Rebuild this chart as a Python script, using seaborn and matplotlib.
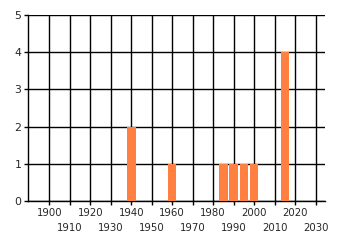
import matplotlib
matplotlib.use("Agg")
import matplotlib.pyplot as plt
import seaborn as sns
import pandas as pd

years = [1940, 1960, 1985, 1990, 1995, 2000, 2015]
counts = [2, 1, 1, 1, 1, 1, 4]
major_ticks = [1900, 1920, 1940, 1960, 1980, 2000, 2020]
minor_ticks = [1910, 1930, 1950, 1970, 1990, 2010, 2030]
y_ticks = [0, 1, 2, 3, 4, 5]

sns.set_style("white")
plt.rcParams['font.family'] = ['DejaVu Sans']

fig = plt.figure(figsize=(3.4, 2.45), dpi=100)
ax = fig.add_axes([0.0833, 0.180, 0.8727, 0.759])

df = pd.DataFrame({"year": years, "count": counts})
sns.barplot(data=df, x="year", y="count", native_scale=True, width=0.83,
            color="#FF8040", saturation=1, errorbar=None, ax=ax, zorder=3,
            linewidth=0, edgecolor="none")

ax.set_xlim(1889.75, 2034.6)
ax.set_ylim(0, 5)
ax.set_xticks(major_ticks)
ax.set_xticks(minor_ticks, minor=True)
ax.set_xticklabels([str(t) for t in major_ticks])
ax.set_xticklabels([str(t) for t in minor_ticks], minor=True)
ax.set_yticks(y_ticks)
ax.set_yticklabels([str(t) for t in y_ticks])

ax.grid(True, which="both", axis="x", color="black", linewidth=1)
ax.grid(True, which="major", axis="y", color="black", linewidth=1)
ax.set_axisbelow(True)

ax.tick_params(axis="x", which="major", length=3, width=1, color="black",
               labelsize=7.3, pad=2, bottom=True)
ax.tick_params(axis="x", which="minor", length=3, width=1, color="black",
               labelsize=7.3, pad=13, bottom=True)
ax.tick_params(axis="y", length=3, width=1, color="black", labelsize=7.8, pad=2, left=True)

for s in ["top", "right"]:
    ax.spines[s].set_visible(False)
for s in ["left", "bottom"]:
    ax.spines[s].set_color("black")
    ax.spines[s].set_linewidth(1)

ax.set_xlabel("")
ax.set_ylabel("")

fig.savefig("out.png", dpi=100)
